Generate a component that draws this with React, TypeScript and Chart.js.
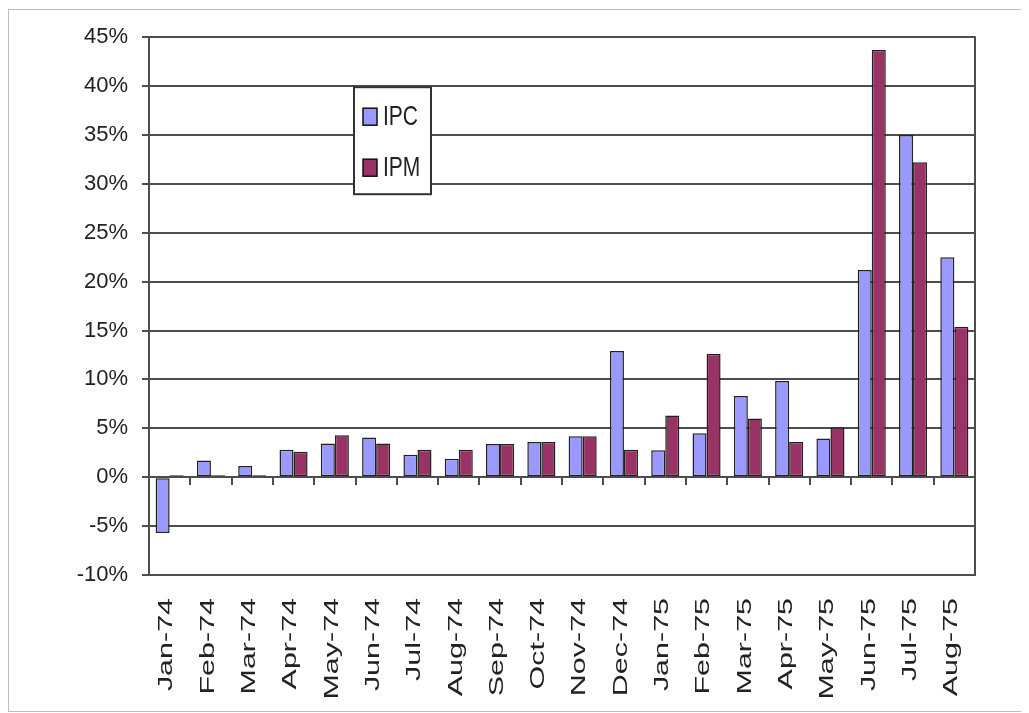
import React, { useEffect, useRef } from "react";
import { Chart, registerables } from "chart.js";

Chart.register(...registerables);

const categories = [
  "Jan-74", "Feb-74", "Mar-74", "Apr-74", "May-74", "Jun-74", "Jul-74", "Aug-74",
  "Sep-74", "Oct-74", "Nov-74", "Dec-74", "Jan-75", "Feb-75", "Mar-75", "Apr-75",
  "May-75", "Jun-75", "Jul-75", "Aug-75",
];
const ipcValues = [-5.7, 1.7, 1.15, 2.8, 3.45, 4.05, 2.3, 1.9, 3.4, 3.6, 4.2, 12.9, 2.75, 4.5, 8.3, 9.85, 3.95, 21.2, 35.0, 22.5];
const ipmValues = [0.2, 0.2, 0.2, 2.6, 4.3, 3.45, 2.8, 2.8, 3.4, 3.6, 4.2, 2.8, 6.3, 12.6, 6.0, 3.6, 5.1, 43.7, 32.2, 15.4];
const seriesNames = ["IPC", "IPM"];
const seriesColors = ["#9999FF", "#993366"];
const yMin = -10;
const yMax = 45;
const yStep = 5;

const FONT = '"Liberation Sans", Arial, sans-serif';
const GRID = "#4d4d4d";
const TEXT = "#222222";

const decorPlugin = {
  id: "decor",
  afterDraw(chart: any) {
    const { ctx, chartArea } = chart;
    const xs = chart.scales.x;
    const ys = chart.scales.y;
    ctx.save();
    // right frame line of plot area
    ctx.strokeStyle = GRID;
    ctx.lineWidth = 2;
    ctx.beginPath();
    ctx.moveTo(chartArea.right, chartArea.top - 1);
    ctx.lineTo(chartArea.right, chartArea.bottom + 1);
    ctx.stroke();
    // category tick marks on zero line
    const y0 = Math.round(ys.getPixelForValue(0));
    for (let i = 0; i <= categories.length; i++) {
      const x = Math.round(xs.getPixelForValue(i - 0.5));
      ctx.beginPath();
      ctx.moveTo(x, y0);
      ctx.lineTo(x, y0 + 8);
      ctx.stroke();
    }
    // x labels (stretched along the text direction)
    ctx.fillStyle = TEXT;
    ctx.font = `21px ${FONT}`;
    ctx.textAlign = "right";
    ctx.textBaseline = "middle";
    categories.forEach((lab, i) => {
      const x = xs.getPixelForValue(i) - 3;
      ctx.save();
      ctx.translate(x, chartArea.bottom + 23);
      ctx.rotate(-Math.PI / 2);
      ctx.scale(1.45, 1);
      ctx.fillText(lab, 0, 0);
      ctx.restore();
    });
    // legend box
    const lx = chartArea.left + 205;
    const ly = chartArea.top + 50;
    const lw = 77;
    const lh = 107;
    ctx.fillStyle = "#ffffff";
    ctx.fillRect(lx, ly, lw, lh);
    ctx.strokeStyle = "#333333";
    ctx.lineWidth = 2;
    ctx.strokeRect(lx, ly, lw, lh);
    seriesNames.forEach((name, i) => {
      const cy = ly + 29 + i * 51;
      ctx.fillStyle = seriesColors[i];
      ctx.fillRect(lx + 9, cy - 8, 14, 17);
      ctx.strokeStyle = "#111111";
      ctx.lineWidth = 1.5;
      ctx.strokeRect(lx + 9, cy - 8, 14, 17);
      ctx.save();
      ctx.translate(lx + 29, cy + 1);
      ctx.scale(1, 1.3);
      ctx.fillStyle = TEXT;
      ctx.font = `21px ${FONT}`;
      ctx.textAlign = "left";
      ctx.textBaseline = "middle";
      ctx.fillText(name, 0, 0);
      ctx.restore();
    });
    ctx.restore();
  },
};

export default function App() {
  const ref = useRef<HTMLCanvasElement | null>(null);
  useEffect(() => {
    document.body.style.overflow = "hidden";
    const canvas = ref.current;
    if (!canvas) return;
    const chart = new Chart(canvas, {
      type: "bar",
      data: {
        labels: categories,
        datasets: [
          {
            label: seriesNames[0],
            data: ipcValues,
            backgroundColor: seriesColors[0],
            borderColor: "#222222",
            borderWidth: 1.5,
            borderSkipped: false,
            barPercentage: 1,
            categoryPercentage: 0.68,
          },
          {
            label: seriesNames[1],
            data: ipmValues,
            backgroundColor: seriesColors[1],
            borderColor: "#222222",
            borderWidth: 1.5,
            borderSkipped: false,
            barPercentage: 1,
            categoryPercentage: 0.68,
          },
        ],
      },
      options: {
        animation: false,
        responsive: false,
        layout: { padding: { top: 27, right: 54, left: 0, bottom: 0 } },
        plugins: {
          legend: { display: false },
          tooltip: { enabled: false },
        },
        scales: {
          x: {
            type: "category",
            offset: true,
            grid: { display: false, drawTicks: false },
            border: { display: true, color: GRID, width: 2 },
            ticks: { display: false },
            afterFit: (s: any) => {
              s.height = 136;
            },
          },
          y: {
            min: yMin,
            max: yMax,
            ticks: {
              stepSize: yStep,
              callback: (v: any) => `${v}%`,
              font: { family: FONT, size: 22 },
              color: TEXT,
              padding: 14,
            },
            grid: { color: GRID, lineWidth: 2, tickLength: 7, drawTicks: true },
            border: { display: true, color: GRID, width: 2 },
            afterFit: (s: any) => {
              s.width = 140;
            },
          },
        },
      },
      plugins: [decorPlugin],
    } as any);
    return () => chart.destroy();
  }, []);

  return (
    <div
      style={{
        marginTop: 1,
        width: 1020,
        height: 701,
        borderTop: "1px solid #bdbdbd",
        borderLeft: "1px solid #bdbdbd",
        borderBottom: "1px solid #bdbdbd",
        background: "#ffffff",
      }}
    >
      <canvas ref={ref} width={1020} height={701} style={{ display: "block" }} />
    </div>
  );
}
